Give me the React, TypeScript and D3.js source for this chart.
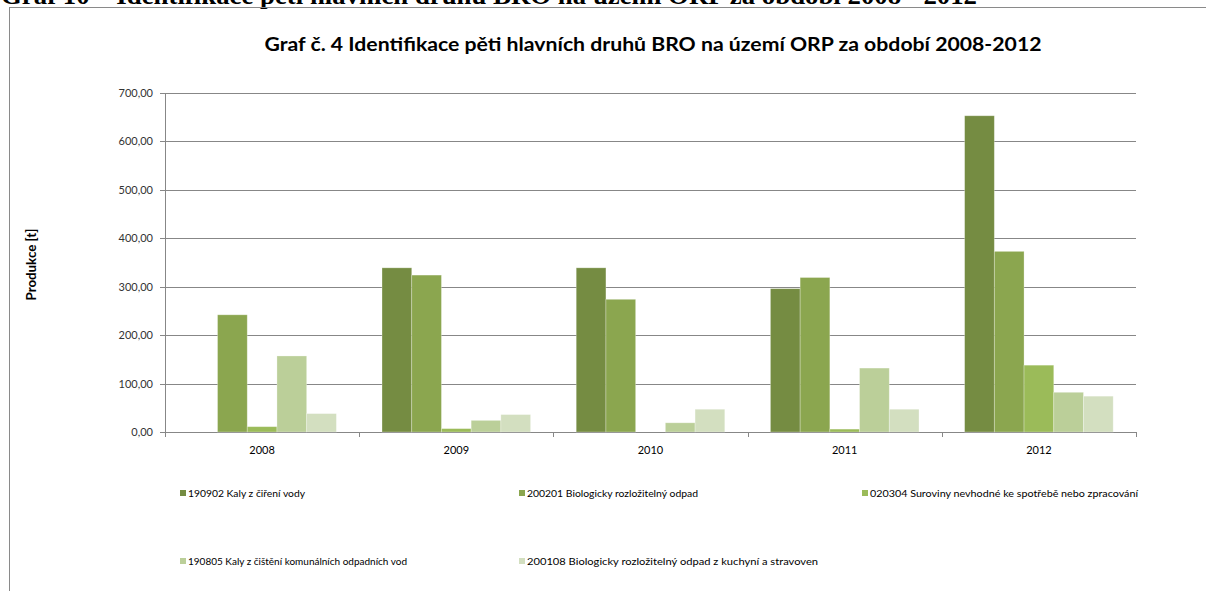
import React from "react";
import * as d3 from "d3";

const years = ["2008", "2009", "2010", "2011", "2012"];
const seriesNames = [
  "190902 Kaly z čiření vody",
  "200201 Biologicky rozložitelný odpad",
  "020304 Suroviny nevhodné ke spotřebě nebo zpracování",
  "190805 Kaly z čištění komunálních odpadních vod",
  "200108 Biologicky rozložitelný odpad z kuchyní a stravoven",
];
const s190902 = [0, 339, 339, 296, 653];
const s200201 = [242, 324, 274, 319, 373];
const s020304 = [11, 7, 0, 6, 138];
const s190805 = [157, 24, 19, 132, 82];
const s200108 = [38, 36, 47, 47, 74];
const seriesValues = [s190902, s200201, s020304, s190805, s200108];
const colors = ["#758C42", "#8BA64F", "#9BBB59", "#BBCF99", "#D3DFC0"];
const yTicks = [0, 100, 200, 300, 400, 500, 600, 700];

const W = 1206;
const H = 591;
const plot = { left: 165, right: 1136, top: 93, bottom: 432 };

const legendPos = [
  { x: 180, y: 494 },
  { x: 519, y: 494 },
  { x: 862, y: 494 },
  { x: 180, y: 562 },
  { x: 519, y: 562 },
];
const legendWidths = [117, 171, 268, 219, 291];

export default function App() {
  const x0 = d3.scaleBand<string>().domain(years).range([plot.left, plot.right]).paddingInner(0).paddingOuter(0);
  const groupPad = 0.235;
  const x1 = d3
    .scaleBand<number>()
    .domain(d3.range(seriesNames.length))
    .range([x0.bandwidth() * groupPad / 2, x0.bandwidth() * (1 - groupPad / 2)]);
  const y = d3.scaleLinear().domain([0, 700]).range([plot.bottom, plot.top]);
  const fmt = (v: number) => d3.format(".2f")(v).replace(".", ",");
  const font = "Lato, 'Open Sans', sans-serif";
  const boundaries = years.map((yr) => x0(yr)!).concat([plot.right]);

  return (
    <svg
      width={W}
      height={H}
      style={{ position: "absolute", left: 0, top: 0, display: "block", background: "#fff" }}
    >
      <text
        x={1}
        y={4}
        fontFamily="'Liberation Serif', 'Times New Roman', serif"
        fontWeight="bold"
        fontSize={26}
        fill="#000"
        textLength={976}
        lengthAdjust="spacingAndGlyphs"
      >
        Graf 10 – Identifikace pěti hlavních druhů BRO na území ORP za období 2008 - 2012
      </text>
      <line x1={9.5} y1={7} x2={9.5} y2={H} stroke="#8a8a8a" />
      <line x1={9} y1={7.5} x2={W} y2={7.5} stroke="#8a8a8a" />

      <text
        x={653}
        y={51}
        textAnchor="middle"
        fontFamily={font}
        fontWeight="bold"
        fontSize={19}
        fill="#000"
        textLength={777}
        lengthAdjust="spacingAndGlyphs"
      >
        Graf č. 4 Identifikace pěti hlavních druhů BRO na území ORP za období 2008-2012
      </text>

      {yTicks.map((t) => (
        <g key={t}>
          <line
            x1={plot.left - 5}
            x2={plot.right}
            y1={Math.round(y(t)) + 0.5}
            y2={Math.round(y(t)) + 0.5}
            stroke="#878787"
          />
          <text
            x={153}
            y={y(t) + 4}
            textAnchor="end"
            fontFamily={font}
            fontSize={11}
            fill="#333"
          >
            {fmt(t)}
          </text>
        </g>
      ))}
      <line x1={plot.left + 0.5} x2={plot.left + 0.5} y1={plot.top} y2={plot.bottom} stroke="#878787" />

      <text
        transform={`translate(36,${(plot.top + plot.bottom) / 2 + 2}) rotate(-90)`}
        textAnchor="middle"
        fontFamily={font}
        fontWeight="bold"
        fontSize={13}
        fill="#000"
        textLength={72}
        lengthAdjust="spacingAndGlyphs"
      >
        Produkce [t]
      </text>

      {years.map((yr, i) => (
        <g key={yr} transform={`translate(${x0(yr)},0)`}>
          {seriesValues.map((vals, s) =>
            vals[i] > 0 ? (
              <rect
                key={s}
                x={x1(s)}
                y={y(vals[i])}
                width={x1.bandwidth()}
                height={y(0) - y(vals[i])}
                fill={colors[s]}
                stroke="#ffffff"
                strokeOpacity={0.35}
                strokeWidth={0.8}
              />
            ) : null
          )}
        </g>
      ))}

      {boundaries.map((bx, i) => (
        <line
          key={i}
          x1={Math.round(bx) + 0.5}
          x2={Math.round(bx) + 0.5}
          y1={plot.bottom}
          y2={plot.bottom + 5}
          stroke="#878787"
        />
      ))}
      {years.map((yr) => (
        <text
          key={yr}
          x={x0(yr)! + x0.bandwidth() / 2}
          y={454}
          textAnchor="middle"
          fontFamily={font}
          fontSize={11}
          fill="#000"
        >
          {yr}
        </text>
      ))}

      {seriesNames.map((name, i) => (
        <g key={name}>
          <rect x={legendPos[i].x} y={legendPos[i].y - 4} width={6} height={6} fill={colors[i]} />
          <text
            x={legendPos[i].x + 8}
            y={legendPos[i].y + 3}
            fontFamily={font}
            fontSize={9}
            fill="#000"
            textLength={legendWidths[i]}
            lengthAdjust="spacingAndGlyphs"
          >
            {name}
          </text>
        </g>
      ))}
    </svg>
  );
}
